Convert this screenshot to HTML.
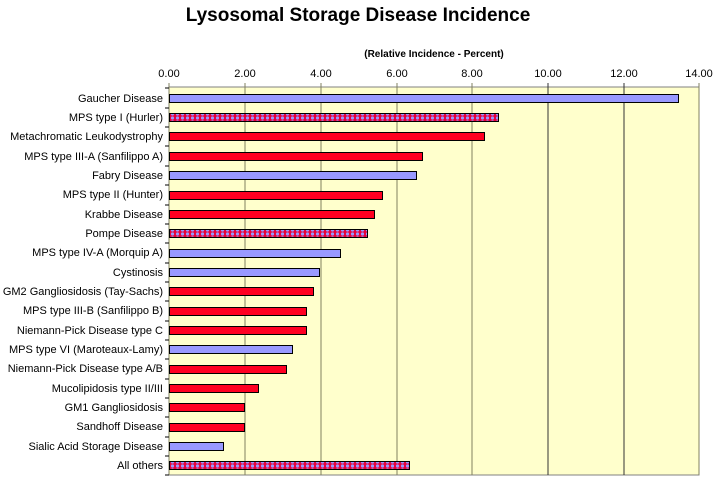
<!DOCTYPE html>
<html><head><meta charset="utf-8"><style>body{margin:0;background:#fff}svg{display:block}</style></head><body>
<svg width="717" height="488" xmlns="http://www.w3.org/2000/svg" font-family="Liberation Sans, Arial, sans-serif">
<defs>
<pattern id="p" width="5" height="4" patternUnits="userSpaceOnUse">
<rect width="5" height="4" fill="#e8003a"/>
<circle cx="2.5" cy="2" r="1.6" fill="#9999ff"/>
</pattern>
</defs>
<text x="358" y="21" font-size="19" font-weight="bold" text-anchor="middle">Lysosomal Storage Disease Incidence</text>
<text x="434" y="57" font-size="10" font-weight="bold" text-anchor="middle">(Relative Incidence - Percent)</text>
<rect x="169" y="87" width="530" height="388" fill="#ffffcc" stroke="#808080"/>
<g stroke="#808060" stroke-width="1">
<line x1="245" y1="83" x2="245" y2="475"/><line x1="321" y1="83" x2="321" y2="475"/>
<line x1="397" y1="83" x2="397" y2="475"/><line x1="472" y1="83" x2="472" y2="475"/>
<line x1="548" y1="83" x2="548" y2="475" stroke="#333"/><line x1="624" y1="83" x2="624" y2="475" stroke="#333"/>
<line x1="169" y1="83" x2="169" y2="475"/><line x1="699" y1="83" x2="699" y2="475"/>
</g>
<g font-size="11" text-anchor="middle" fill="#000">
<text x="169" y="77">0.00</text><text x="245" y="77">2.00</text><text x="321" y="77">4.00</text><text x="397" y="77">6.00</text><text x="472" y="77">8.00</text><text x="548" y="77">10.00</text><text x="624" y="77">12.00</text><text x="699" y="77">14.00</text>
</g>
<g stroke="#000" stroke-width="1">
<rect x="169.5" y="94.5" width="509" height="8" fill="#9999ff"/>
<rect x="169.5" y="113.5" width="329" height="8" fill="url(#p)"/>
<rect x="169.5" y="132.5" width="315" height="8" fill="#ff0022"/>
<rect x="169.5" y="152.5" width="253" height="8" fill="#ff0022"/>
<rect x="169.5" y="171.5" width="247" height="8" fill="#9999ff"/>
<rect x="169.5" y="191.5" width="213" height="8" fill="#ff0022"/>
<rect x="169.5" y="210.5" width="205" height="8" fill="#ff0022"/>
<rect x="169.5" y="229.5" width="198" height="8" fill="url(#p)"/>
<rect x="169.5" y="249.5" width="171" height="8" fill="#9999ff"/>
<rect x="169.5" y="268.5" width="150" height="8" fill="#9999ff"/>
<rect x="169.5" y="287.5" width="144" height="8" fill="#ff0022"/>
<rect x="169.5" y="307.5" width="137" height="8" fill="#ff0022"/>
<rect x="169.5" y="326.5" width="137" height="8" fill="#ff0022"/>
<rect x="169.5" y="345.5" width="123" height="8" fill="#9999ff"/>
<rect x="169.5" y="365.5" width="117" height="8" fill="#ff0022"/>
<rect x="169.5" y="384.5" width="89" height="8" fill="#ff0022"/>
<rect x="169.5" y="403.5" width="75" height="8" fill="#ff0022"/>
<rect x="169.5" y="423.5" width="75" height="8" fill="#ff0022"/>
<rect x="169.5" y="442.5" width="54" height="8" fill="#9999ff"/>
<rect x="169.5" y="461.5" width="240" height="8" fill="url(#p)"/>
</g>
<g stroke="#000"><line x1="165" y1="88" x2="169" y2="88"/><line x1="165" y1="108" x2="169" y2="108"/><line x1="165" y1="127" x2="169" y2="127"/><line x1="165" y1="146" x2="169" y2="146"/><line x1="165" y1="166" x2="169" y2="166"/><line x1="165" y1="185" x2="169" y2="185"/><line x1="165" y1="205" x2="169" y2="205"/><line x1="165" y1="224" x2="169" y2="224"/><line x1="165" y1="243" x2="169" y2="243"/><line x1="165" y1="263" x2="169" y2="263"/><line x1="165" y1="282" x2="169" y2="282"/><line x1="165" y1="301" x2="169" y2="301"/><line x1="165" y1="321" x2="169" y2="321"/><line x1="165" y1="340" x2="169" y2="340"/><line x1="165" y1="359" x2="169" y2="359"/><line x1="165" y1="379" x2="169" y2="379"/><line x1="165" y1="398" x2="169" y2="398"/><line x1="165" y1="417" x2="169" y2="417"/><line x1="165" y1="437" x2="169" y2="437"/><line x1="165" y1="456" x2="169" y2="456"/><line x1="165" y1="475" x2="169" y2="475"/></g>
<g font-size="11" text-anchor="end" fill="#000">
<text x="163" y="102">Gaucher Disease</text>
<text x="163" y="121">MPS type I (Hurler)</text>
<text x="163" y="140">Metachromatic Leukodystrophy</text>
<text x="163" y="160">MPS type III-A (Sanfilippo A)</text>
<text x="163" y="179">Fabry Disease</text>
<text x="163" y="198">MPS type II (Hunter)</text>
<text x="163" y="218">Krabbe Disease</text>
<text x="163" y="237">Pompe Disease</text>
<text x="163" y="256">MPS type IV-A (Morquip A)</text>
<text x="163" y="276">Cystinosis</text>
<text x="163" y="295">GM2 Gangliosidosis (Tay-Sachs)</text>
<text x="163" y="314">MPS type III-B (Sanfilippo B)</text>
<text x="163" y="334">Niemann-Pick Disease type C</text>
<text x="163" y="353">MPS type VI (Maroteaux-Lamy)</text>
<text x="163" y="372">Niemann-Pick Disease type A/B</text>
<text x="163" y="392">Mucolipidosis type II/III</text>
<text x="163" y="411">GM1 Gangliosidosis</text>
<text x="163" y="430">Sandhoff Disease</text>
<text x="163" y="450">Sialic Acid Storage Disease</text>
<text x="163" y="469">All others</text>
</g>
</svg>
</body></html>
